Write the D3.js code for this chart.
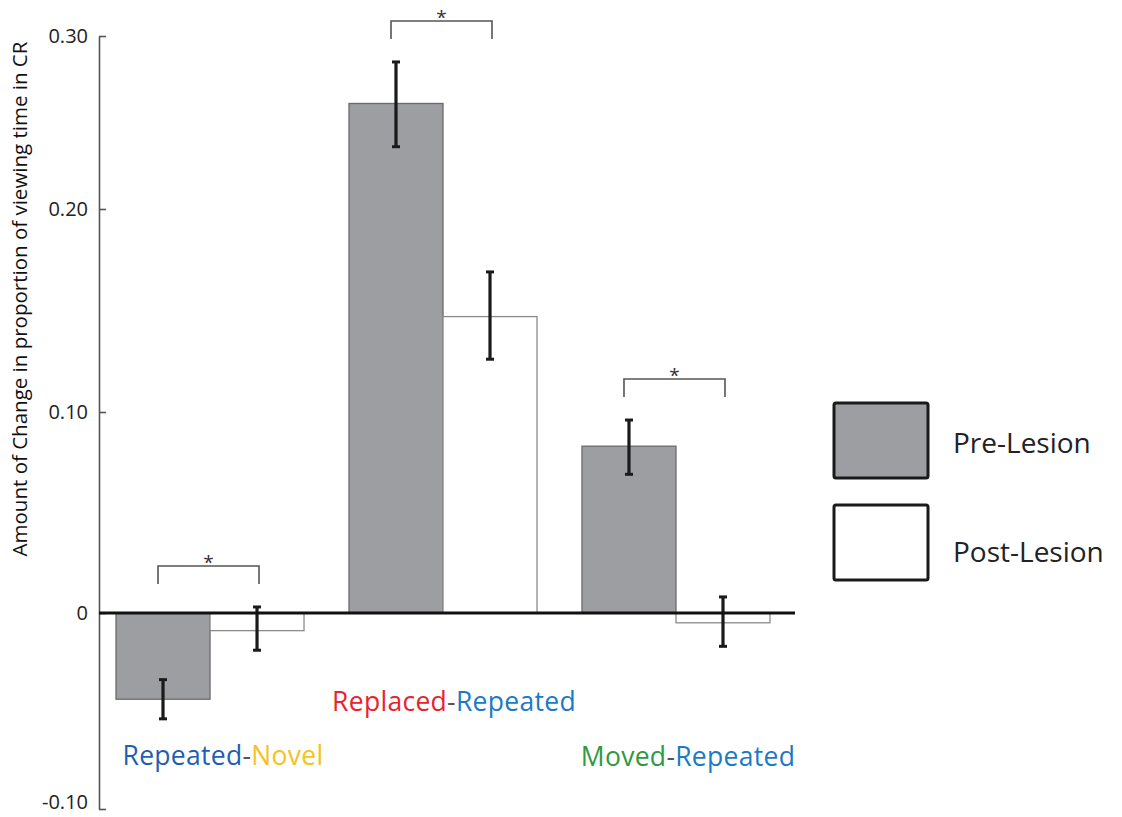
<!DOCTYPE html>
<html>
<head>
<meta charset="utf-8">
<script src="https://cdn.jsdelivr.net/npm/d3@7"></script>
<style>
  html, body { margin: 0; padding: 0; background: #fff; }
  svg { display: block; }
</style>
</head>
<body>
<svg id="chart" width="1122" height="817"></svg>
<script>
// ---- data ----
const categories = ["Repeated-Novel", "Replaced-Repeated", "Moved-Repeated"];
const series = ["Pre-Lesion", "Post-Lesion"];
const preValues  = [-0.044, 0.261, 0.083];
const postValues = [-0.009, 0.147, -0.005];
const preErrLow  = [-0.054, 0.236, 0.069];
const preErrHigh = [-0.034, 0.285, 0.096];
const postErrLow  = [-0.019, 0.126, -0.017];
const postErrHigh = [0.003, 0.169, 0.008];
const significant = [true, true, true];
const yTicks = [-0.10, 0, 0.10, 0.20, 0.30];
const yTickLabels = ["-0.10", "0", "0.10", "0.20", "0.30"];
const labelParts = [
  [["Repeated", "#1f5fb3"], ["-", "#555"], ["Novel", "#f7c21b"]],
  [["Replaced", "#e8232e"], ["-", "#555"], ["Repeated", "#1c7ac4"]],
  [["Moved", "#2e9a40"], ["-", "#555"], ["Repeated", "#1c7ac4"]]
];
const yTitle = "Amount of Change in proportion of viewing time in CR";

// ---- layout ----
const svg = d3.select("#chart");
const font = "'Open Sans', 'Noto Sans', sans-serif";
const axisX = 99;

// the original axis has slightly uneven tick spacing; follow it piecewise
const y = d3.scaleLinear().domain(yTicks).range([809, 613, 412, 209, 36]);

const x = d3.scaleBand().domain(categories).range([116, 770]).paddingInner(0.193).paddingOuter(0);
const xs = d3.scaleBand().domain(series).range([0, x.bandwidth()]).padding(0);

const rows = categories.map((c, i) => ({
  cat: c,
  bars: [
    { s: series[0], v: preValues[i], lo: preErrLow[i], hi: preErrHigh[i] },
    { s: series[1], v: postValues[i], lo: postErrLow[i], hi: postErrHigh[i] }
  ]
}));

const fills = { "Pre-Lesion": "#9d9ea2", "Post-Lesion": "#ffffff" };
const strokes = { "Pre-Lesion": "#6b6b6e", "Post-Lesion": "#8a8a8a" };

// y axis
const axis = d3.axisRight(y).tickValues(yTicks).tickFormat("").tickSize(7).tickSizeOuter(0);
const gAxis = svg.append("g").attr("transform", `translate(${axisX},0)`).call(axis);
gAxis.select(".domain").attr("stroke", "#555").attr("stroke-width", 1.6);
gAxis.selectAll(".tick line").attr("stroke", "#555").attr("stroke-width", 1.6);

svg.append("g").selectAll("text").data(yTicks).join("text")
  .attr("x", 88).attr("y", d => Math.min(y(d), 802)).attr("dy", "0.36em")
  .attr("text-anchor", "end")
  .attr("font-family", font).attr("font-size", 20).attr("fill", "#222")
  .text((d, i) => yTickLabels[i]);

svg.append("text")
  .attr("transform", `translate(27,299) rotate(-90)`)
  .attr("text-anchor", "middle")
  .attr("font-family", font).attr("font-size", 20.5).attr("fill", "#111")
  .text(yTitle);

// bars
const groups = svg.append("g").selectAll("g").data(rows).join("g")
  .attr("transform", d => `translate(${x(d.cat)},0)`);

groups.selectAll("rect").data(d => d.bars).join("rect")
  .attr("x", d => xs(d.s))
  .attr("width", xs.bandwidth())
  .attr("y", d => y(Math.max(0, d.v)))
  .attr("height", d => Math.abs(y(d.v) - y(0)))
  .attr("fill", d => fills[d.s])
  .attr("stroke", d => strokes[d.s])
  .attr("stroke-width", 1.3);

// zero line
svg.append("line")
  .attr("x1", axisX).attr("x2", 795).attr("y1", y(0)).attr("y2", y(0))
  .attr("stroke", "#111").attr("stroke-width", 2.8);

// error bars
const eb = groups.selectAll("g.err").data(d => d.bars).join("g").attr("class", "err");
eb.append("line")
  .attr("x1", d => xs(d.s) + xs.bandwidth() / 2).attr("x2", d => xs(d.s) + xs.bandwidth() / 2)
  .attr("y1", d => y(d.lo)).attr("y2", d => y(d.hi))
  .attr("stroke", "#1a1a1a").attr("stroke-width", 3.2);
["lo", "hi"].forEach(k => {
  eb.append("line")
    .attr("x1", d => xs(d.s) + xs.bandwidth() / 2 - 4).attr("x2", d => xs(d.s) + xs.bandwidth() / 2 + 4)
    .attr("y1", d => y(d[k])).attr("y2", d => y(d[k]))
    .attr("stroke", "#1a1a1a").attr("stroke-width", 3);
});

// significance brackets
groups.filter((d, i) => significant[i]).each(function(d) {
  const g = d3.select(this);
  const cx1 = xs(series[0]) + xs.bandwidth() / 2 - 5;
  const cx2 = xs(series[1]) + xs.bandwidth() / 2 + 2;
  const top = Math.min(...d.bars.map(b => y(b.hi)));
  const legBottom = top - 23;
  const barTop = legBottom - 18;
  g.append("path")
    .attr("d", `M${cx1},${legBottom}V${barTop}H${cx2}V${legBottom}`)
    .attr("fill", "none").attr("stroke", "#555").attr("stroke-width", 1.6);
  g.append("text")
    .attr("x", (cx1 + cx2) / 2).attr("y", barTop + 3)
    .attr("text-anchor", "middle")
    .attr("font-family", font).attr("font-size", 19).attr("fill", "#333")
    .text("*");
});

// category labels
const labelPos = [[223, 765], [454, 711], [688, 766]];
svg.append("g").selectAll("text").data(labelParts).join("text")
  .attr("x", (d, i) => labelPos[i][0]).attr("y", (d, i) => labelPos[i][1])
  .attr("text-anchor", "middle")
  .attr("font-family", font).attr("font-size", 26.5).attr("letter-spacing", 0.3)
  .each(function(parts) {
    d3.select(this).selectAll("tspan").data(parts).join("tspan")
      .attr("fill", p => p[1]).text(p => p[0]);
  });

// legend
const legend = svg.append("g").selectAll("g").data(series).join("g")
  .attr("transform", (d, i) => `translate(834,${403 + i * 102})`);
legend.append("rect")
  .attr("width", 94).attr("height", 75).attr("rx", 2)
  .attr("fill", d => fills[d]).attr("stroke", "#1a1a1a").attr("stroke-width", 3);
legend.append("text")
  .attr("x", 119).attr("y", (d, i) => 40 + i * 7).attr("dy", "0.36em")
  .attr("font-family", font).attr("font-size", 28).attr("fill", "#222")
  .text(d => d);
</script>
</body>
</html>
